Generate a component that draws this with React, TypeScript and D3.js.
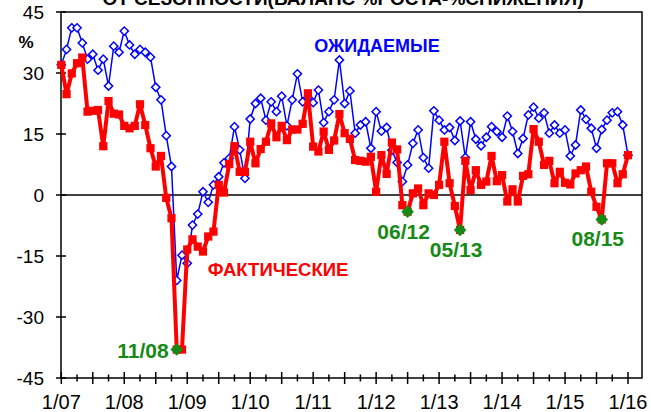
import React from "react";
import * as d3 from "d3";

// monthly, index 0 = 1/07 ... 108 = 1/16
const expected = [
  32, 35.8, 41.1, 41.1, 37.4, 33.4, 34.6, 30.7, 33.4, 26.8,
  36.6, 35.1, 40.3, 36.9, 34.6, 35.8, 35.1, 33.9, 26.5, 23.4,
  14.6, 7, -21, -14.8, -16.8, -7.4, -4.7, 0.8, -1.8, 2.5,
  4.5, 7.9, 9, 16.8, 11.1, 4.1, 18.7, 22.5, 23.8, 18.4,
  22.9, 20.5, 24.3, 17, 23.4, 29.8, 22.9, 24, 22.7, 25.8,
  17.8, 20.5, 23.4, 33.2, 22.5, 25.6, 15.2, 17.2, 18, 11.5,
  20.5, 15.7, 16.6, 11, 8, 3.3, 7.4, 12.7, 16, 9.2,
  6.6, 20.7, 18.4, 16, 16.6, 13.4, 18.2, 9.2, 18, 13.7,
  12.1, 14.2, 16.8, 15.6, 14.2, 19.4, 15.6, 10.2, 13.9, 19.7,
  21.6, 18.9, 20.2, 15.2, 17.2, 15.2, 16, 9.6, 12.3, 20.9,
  18.6, 16.4, 11.5, 16.1, 18.4, 20.2, 20.5, 17.2, 9.8,
];

const actual = [
  32, 24.8, 29.9, 32.4, 33.8, 20.5, 20.7, 20.9, 12, 23.1,
  20, 19.8, 17, 16.4, 17, 22.3, 17.2, 11.5, 7, 9.6,
  -0.7, -5.7, -38, -38, -13.4, -10.9, -12.7, -13.9, -10.2, -9,
  2.5, 0.6, 7.6, 12, 5.7, 5.7, 13.1, 7.8, 11.3, 13.1,
  17.6, 14.2, 17, 13.5, 16.1, 16.1, 17.5, 25, 11.9, 10.7,
  15.6, 11.1, 13.4, 19.9, 15.2, 13.8, 8.6, 8.4, 8.2, 9.4,
  0.8, 9.8, 5.2, 12.9, 11.2, -2.5, -4.1, 0.4, 1.6, -2.5,
  0.4, 0, 2.5, 13.1, 2.9, -2.7, -8.6, 8.4, 1.2, 6.1,
  2.5, 3.3, 9.6, 3.4, 4.9, -1.6, 1.4, -1.6, 4.7, 5.1,
  16.2, 13.1, 7.4, 8.4, 2.9, 5.7, 3, 2.6, 5.3, 6.1,
  7, 0.8, -2.9, -6, 7.8, 7.8, 2.9, 5.1, 9.8,
];

const yearLabels = ["1/07", "1/08", "1/09", "1/10", "1/11", "1/12", "1/13", "1/14", "1/15", "1/16"];
const yTicks = [-45, -30, -15, 0, 15, 30, 45];
const lowLabels = ["11/08", "06/12", "05/13", "08/15"];
const lowIndex = [22, 66, 76, 103];

const font = "'Liberation Sans', Arial, sans-serif";

export default function App() {
  const W = 651, H = 412;
  const left = 61, right = 642, top = 12, bottom = 378;

  const x = d3.scaleLinear().domain([0, 108]).range([61.3, 628]);
  const y = d3.scaleLinear().domain([-45, 45]).range([bottom, top]);

  const line = d3.line<number>().x((d, i) => x(i)).y(d => y(d));

  const qTicks = d3.range(0, 109, 3);
  const diamond = d3.symbol(d3.symbolSquare, 34)();
  const square = d3.symbol(d3.symbolSquare, 68)();
  const bigDiamond = d3.symbol(d3.symbolSquare, 80)();

  return (
    <svg width={W} height={H} style={{ position: "absolute", left: 0, top: 0, background: "#fff" }} fontFamily={font}>
      {/* title is cropped at the top edge in the source picture */}
      <text x={343} y={5} textAnchor="middle" fontSize={19} fontWeight="bold" fill="#000">
        ОТ СЕЗОННОСТИ(БАЛАНС %РОСТА-%СНИЖЕНИЯ)
      </text>

      <rect x={left} y={top} width={right - left} height={bottom - top} fill="none" stroke="#000" strokeWidth={1.5} />
      <line x1={left} x2={right} y1={y(0)} y2={y(0)} stroke="#000" strokeWidth={1.5} />

      {yTicks.map(t => (
        <g key={t}>
          <line x1={left - 5} x2={left + 5} y1={y(t)} y2={y(t)} stroke="#000" strokeWidth={1.5} />
          <text x={44} y={y(t) + 7} textAnchor="end" fontSize={19} fill="#000">{t}</text>
        </g>
      ))}
      <text x={26} y={48} textAnchor="middle" fontSize={17} fontWeight="bold">%</text>

      {qTicks.map(i => {
        const long = i % 6 === 0;
        return <line key={i} x1={x(i)} x2={x(i)} y1={bottom - (long ? 6 : 3.5)} y2={bottom + (long ? 6 : 3.5)} stroke="#000" strokeWidth={1.5} />;
      })}
      {yearLabels.map((l, k) => (
        <text key={l} x={x(k * 12)} y={409} textAnchor="middle" fontSize={20} fill="#000">{l}</text>
      ))}

      <path d={line(expected) || ""} fill="none" stroke="#0000ff" strokeWidth={1.5} />
      {expected.map((v, i) => (
        <path key={i} d={diamond || ""} transform={`translate(${x(i)},${y(v)}) rotate(45)`} fill="#fff" stroke="#0000ff" strokeWidth={1.5} />
      ))}

      <path d={line(actual) || ""} fill="none" stroke="#ff0000" strokeWidth={4} strokeLinejoin="round" />
      {actual.map((v, i) => (
        <path key={i} d={square || ""} transform={`translate(${x(i)},${y(v)})`} fill="#ff0000" />
      ))}

      {lowIndex.map((idx, k) => (
        <g key={k}>
          <path d={bigDiamond || ""} transform={`translate(${x(idx)},${y(actual[idx])}) rotate(45)`} fill="#168a16" />
          {k === 0 ? (
            <text x={x(idx) - 8} y={y(actual[idx]) + 8} textAnchor="end" fontSize={21} fontWeight="bold" fill="#168a16">{lowLabels[k]}</text>
          ) : (
            <text x={x(idx) - 4} y={y(actual[idx]) + 27} textAnchor="middle" fontSize={21} fontWeight="bold" fill="#168a16">{lowLabels[k]}</text>
          )}
        </g>
      ))}

      <text x={377} y={52} textAnchor="middle" fontSize={18} fontWeight="bold" fill="#0000ff">ОЖИДАЕМЫЕ</text>
      <text x={278} y={276} textAnchor="middle" fontSize={18.5} fontWeight="bold" fill="#ff0000">ФАКТИЧЕСКИЕ</text>
    </svg>
  );
}
